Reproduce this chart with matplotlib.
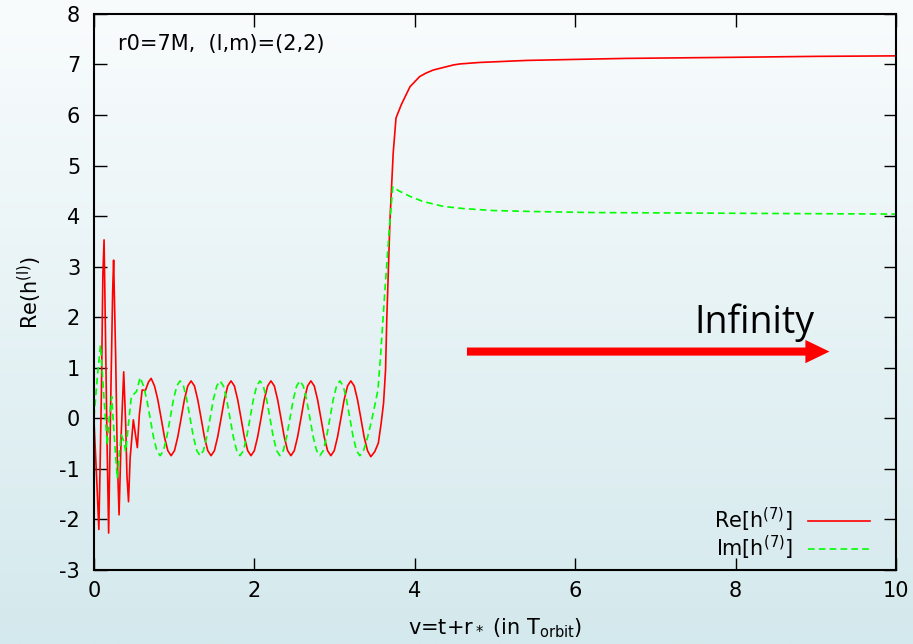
#!/usr/bin/env python3
"""
plot.py

Re/Im of the l=2, m=2 waveform h^(7) vs v=t+r* for r0=7M,
drawn gnuplot-like on a soft blue gradient background.
"""

import matplotlib
matplotlib.use("Agg")
import matplotlib.pyplot as plt
import numpy as np
from matplotlib.colors import LinearSegmentedColormap

plt.rcParams["font.family"] = ["DejaVu Sans"]
plt.rcParams["mathtext.fontset"] = "dejavusans"
plt.rcParams["mathtext.default"] = "regular"
plt.rcParams["axes.unicode_minus"] = False

# ---- data ----
# Re[h^(7)]: early burst, steady oscillation, jump, plateau
RE_BURST_V = [0.0, 0.04, 0.06, 0.075, 0.092, 0.11, 0.125, 0.141, 0.162, 0.182,
              0.21, 0.232, 0.244, 0.27, 0.29, 0.312, 0.34, 0.37, 0.395, 0.41,
              0.43, 0.45, 0.49, 0.54, 0.565, 0.60, 0.64, 0.68]
RE_BURST_H = [-0.07, -1.45, -2.2, -1.0, 0.53, 2.84, 3.53, 1.85, -0.46, -2.27,
              0.53, 2.5, 3.13, 1.2, -0.78, -1.91, -0.26, 0.92, -0.13, -1.12,
              -1.65, -0.79, -0.03, -0.58, 0.07, 0.56, 0.55, 0.72]

RE_WAVE_V = [0.712, 0.754, 0.795, 0.837, 0.878, 0.920, 0.961, 1.003, 1.044, 1.086,
             1.127, 1.169, 1.210, 1.252, 1.293, 1.335, 1.376, 1.418, 1.459, 1.501,
             1.542, 1.584, 1.625, 1.667, 1.708, 1.750, 1.791, 1.833, 1.874, 1.916,
             1.957, 1.999, 2.040, 2.082, 2.123, 2.165, 2.206, 2.248, 2.289, 2.331,
             2.372, 2.414, 2.455, 2.497, 2.538, 2.580, 2.621, 2.663, 2.704, 2.746,
             2.787, 2.829, 2.870, 2.912, 2.953, 2.995, 3.036, 3.078, 3.119, 3.161,
             3.202, 3.244, 3.285, 3.327, 3.368, 3.410, 3.451]
RE_WAVE_H = [0.79, 0.64, 0.37, 0.0, -0.37, -0.64, -0.74, -0.64, -0.37, 0.0, 0.37, 0.64,
             0.74, 0.64, 0.37, 0.0, -0.37, -0.64, -0.74, -0.64, -0.37, 0.0, 0.37, 0.64,
             0.74, 0.64, 0.37, 0.0, -0.37, -0.64, -0.74, -0.64, -0.37, 0.0, 0.37, 0.64,
             0.74, 0.64, 0.37, 0.0, -0.37, -0.64, -0.74, -0.64, -0.37, 0.0, 0.37, 0.64,
             0.74, 0.64, 0.37, 0.0, -0.37, -0.64, -0.74, -0.64, -0.37, 0.0, 0.37, 0.64,
             0.74, 0.64, 0.37, 0.0, -0.37, -0.64, -0.76]

RE_JUMP_V = [3.50, 3.545, 3.58, 3.61, 3.635, 3.65, 3.69, 3.73, 3.765]
RE_JUMP_H = [-0.66, -0.49, -0.1, 0.3, 0.96, 1.95, 3.92, 5.24, 5.94]

RE_TAIL_V = [3.83, 3.90, 3.94, 4.06, 4.14, 4.23, 4.48, 4.56, 4.81, 5.4,
             6.0, 6.64, 7.89, 9.0, 10.0]
RE_TAIL_H = [6.2, 6.43, 6.56, 6.76, 6.83, 6.89, 6.99, 7.01, 7.04, 7.08,
             7.10, 7.12, 7.14, 7.16, 7.17]

# Im[h^(7)]
IM_BURST_V = [0.0, 0.04, 0.08, 0.12, 0.165, 0.19, 0.22, 0.25, 0.29, 0.315,
              0.34, 0.37, 0.395, 0.43, 0.465, 0.53]
IM_BURST_H = [0.03, 0.8, 1.45, 0.5, -0.53, 0.0, 0.43, -0.3, -1.19, -0.7,
              -0.33, -0.45, -0.66, -0.1, 0.43, 0.53]

IM_WAVE_V = [0.575, 0.617, 0.658, 0.700, 0.741, 0.783, 0.824, 0.866, 0.907, 0.949,
             0.990, 1.032, 1.073, 1.115, 1.156, 1.198, 1.239, 1.281, 1.322, 1.364,
             1.405, 1.447, 1.488, 1.530, 1.571, 1.613, 1.654, 1.696, 1.737, 1.779,
             1.820, 1.862, 1.903, 1.945, 1.986, 2.028, 2.069, 2.111, 2.152, 2.194,
             2.235, 2.277, 2.318, 2.360, 2.401, 2.443, 2.484, 2.526, 2.567, 2.609,
             2.650, 2.692, 2.733, 2.775, 2.816, 2.858, 2.899, 2.941, 2.982, 3.024,
             3.065, 3.107, 3.148, 3.190, 3.231, 3.273, 3.314]
IM_WAVE_H = [0.81, 0.64, 0.37, 0.0, -0.37, -0.64, -0.74, -0.64, -0.37, 0.0, 0.37, 0.64,
             0.74, 0.64, 0.37, 0.0, -0.37, -0.64, -0.74, -0.64, -0.37, 0.0, 0.37, 0.64,
             0.74, 0.64, 0.37, 0.0, -0.37, -0.64, -0.74, -0.64, -0.37, 0.0, 0.37, 0.64,
             0.74, 0.64, 0.37, 0.0, -0.37, -0.64, -0.74, -0.64, -0.37, 0.0, 0.37, 0.64,
             0.74, 0.64, 0.37, 0.0, -0.37, -0.64, -0.74, -0.64, -0.37, 0.0, 0.37, 0.64,
             0.74, 0.64, 0.37, 0.0, -0.37, -0.64, -0.74]

IM_JUMP_V = [3.36, 3.41, 3.46, 3.50, 3.54, 3.575, 3.63, 3.69]
IM_JUMP_H = [-0.64, -0.38, -0.05, 0.25, 0.56, 1.29, 2.6, 3.92]

IM_TAIL_V = [3.725, 3.80, 3.94, 4.1, 4.36, 4.6, 4.98, 5.5, 6.23, 7.47, 8.7, 10.0]
IM_TAIL_H = [4.58, 4.5, 4.39, 4.29, 4.19, 4.15, 4.11, 4.09, 4.07, 4.06, 4.05, 4.04]

ARROW_START = (4.65, 1.32)
ARROW_END_X = 9.17

FS = 15  # text size, gnuplot-ish


def main():
    fig = plt.figure(figsize=(9.13, 6.44), dpi=100)

    # background gradient over the whole figure
    bg = fig.add_axes([0, 0, 1, 1], zorder=-1)
    bg.axis("off")
    cmap = LinearSegmentedColormap.from_list("bg", ["#f9fcfd", "#d4e9ed"])
    bg.imshow(np.linspace(0, 1, 256).reshape(-1, 1), aspect="auto", cmap=cmap,
              extent=[0, 1, 0, 1], origin="upper")

    ax = fig.add_axes([0.103, 0.115, 0.8784, 0.8634])
    ax.set_facecolor("none")

    re_v = RE_BURST_V + RE_WAVE_V + RE_JUMP_V + RE_TAIL_V
    re_h = RE_BURST_H + RE_WAVE_H + RE_JUMP_H + RE_TAIL_H
    im_v = IM_BURST_V + IM_WAVE_V + IM_JUMP_V + IM_TAIL_V
    im_h = IM_BURST_H + IM_WAVE_H + IM_JUMP_H + IM_TAIL_H

    ax.plot(re_v, re_h, color="#ff0000", lw=1.2, label=r"Re[h$^{(7)}$]")
    ax.plot(im_v, im_h, color="#00ff00", lw=1.2, dashes=(4, 2.5),
            label=r"Im[h$^{(7)}$]")

    # "Infinity" arrow
    ax.arrow(ARROW_START[0], ARROW_START[1], ARROW_END_X - ARROW_START[0], 0,
             width=0.16, head_width=0.46, head_length=0.30,
             length_includes_head=True, color="#ff0000", lw=0)
    ax.text(7.49, 1.69, "Infinity", fontsize=27, family=["Open Sans", "DejaVu Sans"],
            ha="left", va="baseline")

    ax.text(0.03, 0.946, "r0=7M,  (l,m)=(2,2)", transform=ax.transAxes,
            fontsize=FS, ha="left", va="center")

    ax.set_xlim(0, 10)
    ax.set_ylim(-3, 8)
    ax.set_xticks(np.arange(0, 11, 2))
    ax.set_yticks(np.arange(-3, 9, 1))
    ax.tick_params(direction="in", length=9, width=1, top=True, right=True,
                   labelsize=FS)
    ax.tick_params(axis="x", pad=8)
    ax.tick_params(axis="y", pad=10)
    for s in ax.spines.values():
        s.set_linewidth(1.5)

    ax.set_xlabel(r"v=t+r$_*$ (in T$_{orbit}$)", fontsize=FS, labelpad=11)
    ax.set_ylabel(r"Re(h$^{(l)}$)", fontsize=FS, labelpad=11)

    ax.legend(loc="lower right", bbox_to_anchor=(0.9676, 0.014), frameon=False,
              markerfirst=False, fontsize=FS, handlelength=3.0, handletextpad=0.7,
              labelspacing=0.0, borderpad=0, borderaxespad=0)

    plt.savefig("out.png", dpi=100)


if __name__ == "__main__":
    main()
